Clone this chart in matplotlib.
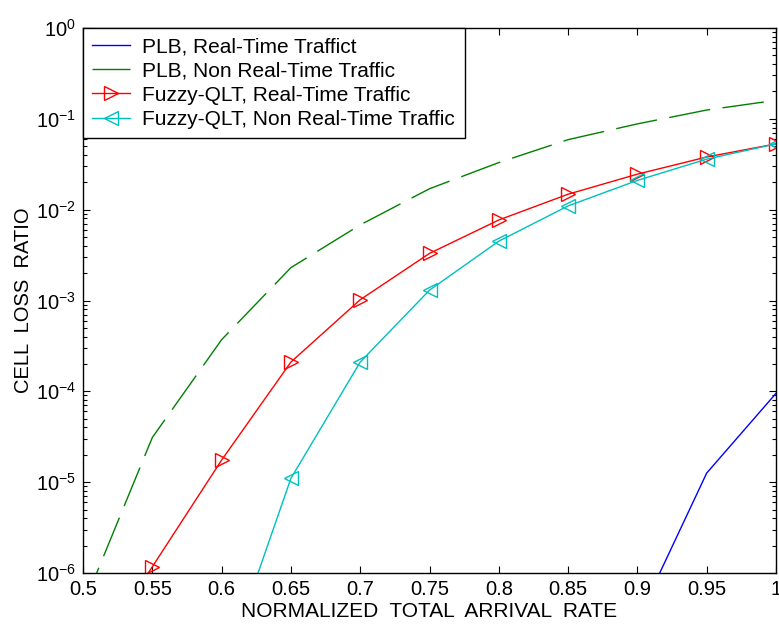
import matplotlib
matplotlib.use("Agg")
import matplotlib.pyplot as plt
from matplotlib.ticker import FixedLocator, LogLocator, NullFormatter

plt.rcParams['font.family'] = ['Liberation Sans', 'DejaVu Sans']

# arrival rate (x axis)
rate = [0.5, 0.55, 0.6, 0.65, 0.7, 0.75, 0.8, 0.85, 0.9, 0.95, 1.0]

# cell loss ratio per scheme
plb_rt = [1e-12, 1e-11, 1e-10, 1e-9, 1e-8, 1e-8, 2e-8, 6e-8, 3.0e-7, 1.26e-5, 9.5e-5]
plb_nrt = [4.3e-7, 3.1e-5, 3.7e-4, 2.3e-3, 6.8e-3, 1.7e-2, 3.3e-2, 5.9e-2, 8.8e-2, 1.25e-1, 1.6e-1]
fuzzy_rt = [8e-8, 1.17e-6, 1.75e-5, 2.1e-4, 1.02e-3, 3.3e-3, 7.7e-3, 1.48e-2, 2.46e-2, 3.8e-2, 5.3e-2]
fuzzy_nrt = [1e-9, 1e-8, 7e-8, 1.1e-5, 2.1e-4, 1.3e-3, 4.5e-3, 1.1e-2, 2.1e-2, 3.6e-2, 5.3e-2]

xtick_labels = ['0.5', '0.55', '0.6', '0.65', '0.7', '0.75', '0.8', '0.85', '0.9', '0.95', '1']

fig = plt.figure(figsize=(7.79, 6.30), dpi=100)
ax = fig.add_axes([83 / 779, 57 / 630, 693 / 779, 545 / 630])

ax.semilogy(rate, plb_rt, color='#0000ff', lw=1, label='PLB, Real-Time Traffict')
ax.semilogy(rate, plb_nrt, color='#008000', lw=1, dashes=(30, 9),
            label='PLB, Non Real-Time Traffic')
ax.semilogy(rate, fuzzy_rt, color='#ff0000', lw=1, marker='>', ms=10,
            mfc='none', mew=1, label='Fuzzy-QLT, Real-Time Traffic')
ax.semilogy(rate, fuzzy_nrt, color='#00bfbf', lw=1, marker='<', ms=10,
            mfc='none', mew=1, label='Fuzzy-QLT, Non Real-Time Traffic')

ax.set_xlim(0.5, 1.0)
ax.set_ylim(1e-6, 1)
ax.xaxis.set_major_locator(FixedLocator(rate))
ax.set_xticklabels(xtick_labels)
ax.yaxis.set_major_locator(LogLocator(base=10, numticks=10))
ax.yaxis.set_minor_locator(LogLocator(base=10, subs=range(2, 10), numticks=20))
ax.yaxis.set_minor_formatter(NullFormatter())

ax.tick_params(which='both', direction='in', top=True, right=True, labelsize=14.5)
ax.tick_params(which='major', length=5, width=0.8, pad=5)
ax.tick_params(which='minor', length=3, width=0.8)
for sp in ax.spines.values():
    sp.set_linewidth(1.0)

ax.set_xlabel('NORMALIZED  TOTAL  ARRIVAL  RATE', fontsize=15, labelpad=2)
ax.set_ylabel('CELL  LOSS  RATIO', fontsize=14.5, labelpad=2)

leg = ax.legend(loc='upper left', fontsize=15, numpoints=1, borderaxespad=0,
                fancybox=False, edgecolor='black', framealpha=1,
                handlelength=1.8, handletextpad=0.6, labelspacing=0.25,
                borderpad=0.45)
leg.get_frame().set_linewidth(1.0)

fig.savefig('out.png', dpi=100)
